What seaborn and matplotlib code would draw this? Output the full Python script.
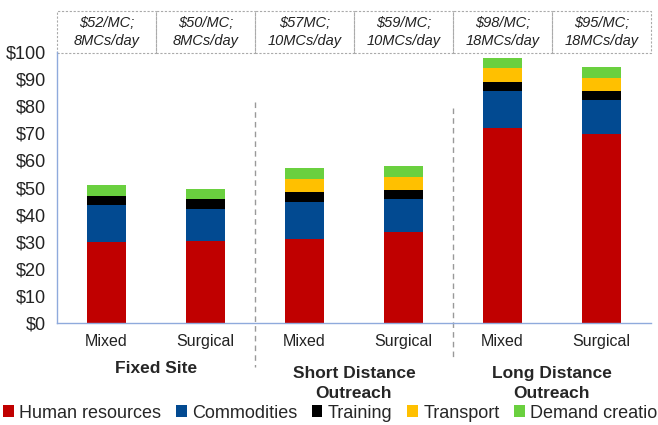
import matplotlib.pyplot as plt
import matplotlib.transforms as mtransforms
from matplotlib.patches import Rectangle, Patch
from matplotlib.lines import Line2D
import pandas as pd
import seaborn as sns

# values (US$ per MC)
bar_ids = ["fs_mixed", "fs_surg", "sd_mixed", "sd_surg", "ld_mixed", "ld_surg"]
tick_labels = ["Mixed", "Surgical"] * 3
groups = ["Fixed Site", "Short Distance\nOutreach", "Long Distance\nOutreach"]
box_labels = ["$52/MC;\n8MCs/day", "$50/MC;\n8MCs/day", "$57MC;\n10MCs/day",
              "$59/MC;\n10MCs/day", "$98/MC;\n18MCs/day", "$95/MC;\n18MCs/day"]

human = [29.8, 30.1, 30.9, 33.7, 71.8, 69.9]
commodities = [13.7, 12.0, 13.9, 12.1, 13.8, 12.3]
training = [3.5, 3.5, 3.4, 3.4, 3.4, 3.3]
transport = [0.0, 0.0, 4.8, 4.8, 5.0, 5.0]
demand = [4.1, 4.0, 4.1, 4.0, 3.9, 3.8]

layers = ["Human resources", "Commodities", "Training", "Transport", "Demand creation"]
colors = ["#C00000", "#024A91", "#000000", "#FFC000", "#6AD03F"]

df = pd.DataFrame({"bar": bar_ids, "Human resources": human, "Commodities": commodities,
                   "Training": training, "Transport": transport, "Demand creation": demand})
cum = df[layers].cumsum(axis=1)
cum["bar"] = df["bar"]

sns.set_style("white")
plt.rcParams["font.family"] = ["Liberation Sans", "DejaVu Sans"]

W, H = 658, 425
fig = plt.figure(figsize=(W / 100, H / 100), dpi=100)
ax = fig.add_axes([57 / W, (H - 323) / H, (651 - 57) / W, (323 - 52) / H])

def fy(px):
    return 1 - px / H

# stacked bars: draw cumulative totals from the top layer down
for name, col in reversed(list(zip(layers, colors))):
    sns.barplot(data=cum, x="bar", y=name, order=bar_ids, color=col, width=0.4,
                saturation=1, errorbar=None, linewidth=0, ax=ax)

ax.set_ylim(0, 100)
ax.set_xlim(-0.5, 5.5)
ax.set_yticks(range(0, 101, 10))
ax.set_yticklabels([f"${v}" for v in range(0, 101, 10)], fontsize=13, color="#222222")
ax.set_xticks(range(len(bar_ids)))
ax.set_xticklabels(tick_labels, fontsize=11.5, color="#222222")
ax.tick_params(length=0, pad=8)
ax.set_xlabel("")
ax.set_ylabel("")
for s in ["top", "right"]:
    ax.spines[s].set_visible(False)
for s in ["left", "bottom"]:
    ax.spines[s].set_color("#8FAADC")
    ax.spines[s].set_linewidth(1)

trans = mtransforms.blended_transform_factory(ax.transData, fig.transFigure)

# group labels
for i, g in enumerate(groups):
    top = 361 if i == 0 else 366
    ax.text(2 * i + 0.5, fy(top), g, transform=trans, ha="center", va="top",
            fontsize=12.5, fontweight="bold", linespacing=1.4)

# dashed separators between groups
for xs, (y0, y1) in zip([1.5, 3.5], [(102, 367), (108, 360)]):
    ax.add_line(Line2D([xs, xs], [fy(y0), fy(y1)], transform=trans, color="#999999",
                       linestyle=(0, (4, 3)), linewidth=1, clip_on=False))

# per-bar cost boxes across the top
for i, lab in enumerate(box_labels):
    ax.add_patch(Rectangle((i - 0.5, fy(53)), 1, fy(11) - fy(53), transform=trans,
                           fill=False, edgecolor="#AAAAAA", linestyle=(0, (2, 1.5)),
                           linewidth=0.8, clip_on=False))
    ax.text(i, fy(32), lab, transform=trans, ha="center", va="center", fontsize=10.5,
            style="italic", linespacing=1.4, parse_math=False, color="#222222")

handles = [Patch(facecolor=c, edgecolor="none") for c in colors]
fig.legend(handles, layers, loc="center left", bbox_to_anchor=(3 / W, fy(413)), ncol=5,
           frameon=False, fontsize=13, handlelength=0.6, handleheight=0.6,
           handletextpad=0.3, columnspacing=0.8, borderaxespad=0, borderpad=0)

fig.savefig("out.png", dpi=100)
